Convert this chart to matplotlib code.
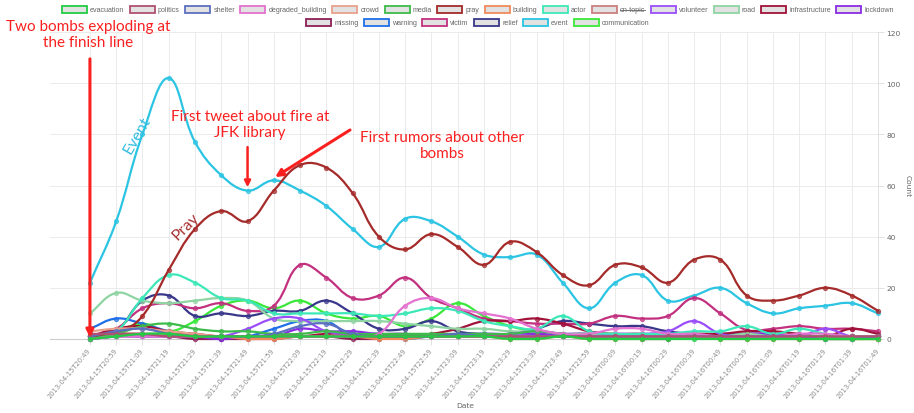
import numpy as np
import matplotlib
matplotlib.use("Agg")
import matplotlib.pyplot as plt
from matplotlib.path import Path
from matplotlib.patches import PathPatch, Rectangle
from matplotlib.lines import Line2D

W, H = 914, 414

# x categories, one every 10 minutes
dates = [
    "2013-04-15T20:49", "2013-04-15T20:59", "2013-04-15T21:09", "2013-04-15T21:19",
    "2013-04-15T21:29", "2013-04-15T21:39", "2013-04-15T21:49", "2013-04-15T21:59",
    "2013-04-15T22:09", "2013-04-15T22:19", "2013-04-15T22:29", "2013-04-15T22:39",
    "2013-04-15T22:49", "2013-04-15T22:59", "2013-04-15T23:09", "2013-04-15T23:19",
    "2013-04-15T23:29", "2013-04-15T23:39", "2013-04-15T23:49", "2013-04-15T23:59",
    "2013-04-16T00:09", "2013-04-16T00:19", "2013-04-16T00:29", "2013-04-16T00:39",
    "2013-04-16T00:49", "2013-04-16T00:59", "2013-04-16T01:09", "2013-04-16T01:19",
    "2013-04-16T01:29", "2013-04-16T01:39", "2013-04-16T01:49",
]

evacuation = [0, 1, 2, 2, 1, 1, 1, 1, 1, 1, 1, 1, 1, 1, 1, 1, 0, 0, 1, 0, 0, 0, 0, 0, 0, 0, 0, 0, 0, 0, 0]
politics = [2, 2, 2, 1, 1, 1, 1, 1, 1, 1, 1, 1, 1, 1, 1, 1, 1, 1, 1, 1, 1, 1, 1, 1, 1, 1, 1, 1, 1, 1, 1]
shelter = [1, 3, 4, 2, 1, 1, 1, 2, 5, 6, 2, 1, 1, 1, 2, 1, 1, 1, 1, 1, 1, 1, 1, 1, 1, 1, 1, 1, 0, 0, 1]
degraded_building = [0, 1, 1, 1, 1, 1, 1, 1, 1, 1, 1, 2, 13, 16, 12, 10, 8, 4, 2, 2, 4, 4, 2, 2, 1, 1, 1, 2, 2, 1, 1]
crowd = [3, 4, 4, 3, 2, 1, 1, 1, 1, 1, 1, 1, 1, 1, 1, 1, 1, 1, 1, 1, 1, 1, 1, 1, 1, 1, 1, 1, 0, 0, 0]
media = [0, 2, 5, 6, 4, 3, 3, 2, 2, 3, 2, 2, 2, 2, 2, 2, 2, 3, 2, 1, 1, 1, 1, 1, 1, 1, 1, 1, 1, 1, 1]
pray = [1, 2, 9, 27, 43, 50, 46, 58, 68, 67, 57, 40, 35, 41, 36, 29, 38, 34, 25, 21, 29, 28, 22, 31, 31, 17, 15, 17, 20, 17, 11]
building = [1, 2, 2, 2, 1, 1, 0, 0, 1, 1, 1, 0, 0, 1, 1, 1, 0, 0, 1, 0, 0, 0, 1, 1, 0, 0, 0, 0, 0, 0, 0]
actor = [1, 3, 16, 25, 22, 16, 15, 10, 10, 10, 10, 9, 10, 12, 11, 7, 5, 4, 9, 3, 2, 2, 2, 3, 3, 5, 2, 4, 2, 1, 1]
volunteer = [0, 1, 1, 1, 1, 1, 4, 8, 8, 3, 2, 2, 1, 1, 1, 2, 2, 3, 2, 1, 2, 2, 3, 7, 2, 1, 1, 1, 4, 1, 1]
road = [10, 18, 15, 14, 15, 16, 15, 8, 7, 7, 7, 7, 6, 5, 4, 4, 3, 3, 2, 2, 2, 1, 1, 1, 1, 2, 1, 1, 1, 1, 1]
infrastructure = [1, 4, 5, 3, 2, 1, 1, 1, 1, 2, 2, 1, 1, 2, 4, 7, 7, 8, 6, 3, 2, 2, 1, 2, 2, 3, 3, 2, 1, 4, 2]
lockdown = [0, 1, 2, 1, 1, 0, 1, 1, 4, 3, 3, 2, 2, 1, 1, 1, 2, 2, 2, 2, 1, 1, 1, 1, 1, 2, 2, 1, 1, 1, 0]
missing = [0, 1, 1, 1, 0, 0, 0, 0, 1, 1, 0, 0, 1, 1, 1, 1, 1, 1, 1, 1, 1, 0, 0, 1, 1, 1, 1, 0, 1, 1, 0]
warning = [4, 8, 6, 3, 1, 0, 1, 4, 7, 7, 1, 1, 0, 1, 1, 2, 1, 1, 1, 1, 1, 1, 2, 1, 1, 1, 1, 1, 1, 1, 1]
victim = [1, 4, 12, 14, 12, 14, 11, 13, 29, 24, 16, 17, 24, 16, 12, 8, 7, 6, 6, 6, 9, 8, 9, 16, 10, 3.5, 4, 5, 4, 4, 3]
relief = [1, 3, 15, 17, 9, 10, 9, 11, 11, 15, 10, 4, 4, 7, 3, 2, 2, 4, 7, 6, 5, 5, 3, 2, 2, 2, 2, 1, 1, 1, 1]
event = [22, 46, 80, 102, 77, 64, 58, 62, 58, 52, 43, 36, 47, 46, 40, 33, 32, 33, 22, 12, 22, 25, 15, 17, 20, 14, 10, 12, 13, 14, 10]
communication = [1, 3, 6, 3, 7, 13, 15, 12, 15, 10, 8, 9, 5, 8, 14, 9, 5, 3, 2, 2, 1, 1, 1, 2, 1, 1, 1, 1, 0, 0, 0]

# legend order (dataset order), on-topic is hidden
series = [
    ("evacuation", "#22cc44", evacuation),
    ("politics", "#b05070", politics),
    ("shelter", "#5b6fc0", shelter),
    ("degraded_building", "#e472d0", degraded_building),
    ("crowd", "#e9a08c", crowd),
    ("media", "#3dbb4a", media),
    ("pray", "#a52a2a", pray),
    ("building", "#f08a5a", building),
    ("actor", "#3de8b8", actor),
    ("on-topic", "#cc7f7f", None),
    ("volunteer", "#9b4dfa", volunteer),
    ("road", "#8fd4a2", road),
    ("infrastructure", "#a0123a", infrastructure),
    ("lockdown", "#8a2be2", lockdown),
    ("missing", "#8e1f56", missing),
    ("warning", "#1f6fe8", warning),
    ("victim", "#c2307f", victim),
    ("relief", "#38378a", relief),
    ("event", "#2bc4e2", event),
    ("communication", "#3ae83a", communication),
]
row1 = [s[0] for s in series[:14]]
row2 = [s[0] for s in series[14:]]

RED = "#fa2020"


def px(x, y):
    return x / W, 1 - y / H


def spline_path(ax, xs, ys, tension=0.4, ymin=0, ymax=120):
    # chart.js style bezier through the points
    pts = np.column_stack([xs, ys]).astype(float)
    disp = ax.transData.transform(pts)
    n = len(pts)
    cp_prev, cp_next = [], []
    for i in range(n):
        a, b = max(i - 1, 0), min(i + 1, n - 1)
        d01 = np.hypot(*(disp[i] - disp[a]))
        d12 = np.hypot(*(disp[b] - disp[i]))
        tot = d01 + d12
        s01 = d01 / tot if tot else 0
        s12 = d12 / tot if tot else 0
        delta = pts[b] - pts[a]
        p = pts[i] - tension * s01 * delta
        q = pts[i] + tension * s12 * delta
        p[1] = min(max(p[1], ymin), ymax)
        q[1] = min(max(q[1], ymin), ymax)
        cp_prev.append(p)
        cp_next.append(q)
    verts = [pts[0]]
    codes = [Path.MOVETO]
    for i in range(1, n):
        verts += [cp_next[i - 1], cp_prev[i], pts[i]]
        codes += [Path.CURVE4] * 3
    return Path(verts, codes)


fig = plt.figure(figsize=(W / 100, H / 100), dpi=100)
ax = fig.add_axes([50 / W, 74 / H, (878 - 50) / W, (340 - 33) / H])
ax.set_xlim(-1.52, 30)
ax.set_ylim(0, 120)

x = np.arange(len(dates))
n_series = len(series)
for k, (name, color, vals) in enumerate(series):
    if vals is None:
        continue
    z = 3 + (n_series - k) * 0.1
    path = spline_path(ax, x, vals)
    ax.add_patch(PathPatch(path, facecolor="none", edgecolor=color, lw=1.6,
                           zorder=z, clip_on=False, capstyle="round"))
    ax.plot(x, vals, "o", ms=3.0, mec=color, mfc=color, mew=0.8, alpha=0.7,
            zorder=z, clip_on=False)

# axes styling
ax.set_xticks(x)
ax.set_xticklabels(dates, rotation=50, ha="right", va="center",
                   rotation_mode="anchor", fontsize=4.9, color="#8c8c8c")
ax.set_yticks(range(0, 121, 20))
ax.yaxis.tick_right()
ax.yaxis.set_label_position("right")
ax.tick_params(axis="y", length=4, width=0.6, color="#dddddd", labelsize=5.4,
               labelcolor="#666666", pad=2)
ax.tick_params(axis="x", length=4, width=0.6, color="#dddddd", pad=3)
ax.grid(True, color="#ebebeb", lw=0.7)
ax.set_axisbelow(True)
for s in ["top", "left"]:
    ax.spines[s].set_visible(False)
ax.spines["bottom"].set_color("#cccccc")
ax.spines["right"].set_color("#dddddd")
ax.spines["bottom"].set_linewidth(0.8)
ax.spines["right"].set_linewidth(0.6)
fig.text(*px(465, 406), "Date", ha="center", va="center", fontsize=5.4,
         color="#666666")
ax.set_ylabel("Count", fontsize=5.4, color="#666666", rotation=-90, labelpad=7)

# legend, two centred rows of boxes
renderer = fig.canvas.get_renderer()
colors = {s[0]: s[1] for s in series}
box_w, box_h, gap, spacing = 25, 7, 3, 5.5
for names, yc in [(row1, 10.5), (row2, 23.5)]:
    texts = []
    widths = []
    for nm in names:
        t = fig.text(0, 0, nm, fontsize=5.1, color="#666666", va="center",
                     family="Liberation Sans")
        widths.append(t.get_window_extent(renderer).width)
        texts.append(t)
    total = sum(box_w + gap + w for w in widths) + spacing * (len(names) - 1)
    xs = 478 - total / 2
    for nm, t, w in zip(names, texts, widths):
        fig.patches.append(Rectangle(px(xs, yc + box_h / 2), box_w / W, box_h / H,
                                     transform=fig.transFigure, facecolor="#e2e2e2",
                                     edgecolor=colors[nm], lw=1.3))
        t.set_position(px(xs + box_w + gap, yc))
        if nm == "on-topic":
            fig.add_artist(Line2D([(xs + box_w + gap) / W, (xs + box_w + gap + w) / W],
                                  [1 - yc / H, 1 - yc / H], color="#666666", lw=0.6,
                                  transform=fig.transFigure))
        xs += box_w + gap + w + spacing

# annotations
font = "Lato"
fig.text(*px(88, 35), "Two bombs exploding at\nthe finish line", ha="center",
         va="center", fontsize=11, color=RED, family=font, linespacing=1.25)
ax.annotate("", xy=(0, 0.6), xytext=(0, 109.5),
            arrowprops=dict(arrowstyle="-|>", color=RED, lw=2.2, mutation_scale=11,
                            shrinkA=0, shrinkB=0), zorder=10, annotation_clip=False)

ax.text(6.09, 84, "First tweet about fire at\nJFK library", ha="center", va="center",
        fontsize=11, color=RED, family=font, linespacing=1.25, zorder=10)
ax.annotate("", xy=(6, event[6] + 1.3), xytext=(6, 75),
            arrowprops=dict(arrowstyle="-|>", color=RED, lw=1.8, mutation_scale=9,
                            shrinkA=0, shrinkB=0), zorder=10)

ax.text(13.4, 75.8, "First rumors about other\nbombs", ha="center", va="center",
        fontsize=11, color=RED, family=font, linespacing=1.25, zorder=10)
ax.annotate("", xy=(7.05, event[7] + 1.3), xytext=(9.9, 81.7),
            arrowprops=dict(arrowstyle="-|>", color=RED, lw=2.2, mutation_scale=11,
                            shrinkA=0, shrinkB=0), zorder=10)

ax.text(1.79, 80, "Event", rotation=60, ha="center", va="center", fontsize=11.5,
        color="#33bde0", family=font, zorder=10)
ax.text(3.65, 44.2, "Pray", rotation=45, ha="center", va="center", fontsize=11.5,
        color="#a83232", family=font, zorder=10)

fig.savefig("out.png", dpi=100)
